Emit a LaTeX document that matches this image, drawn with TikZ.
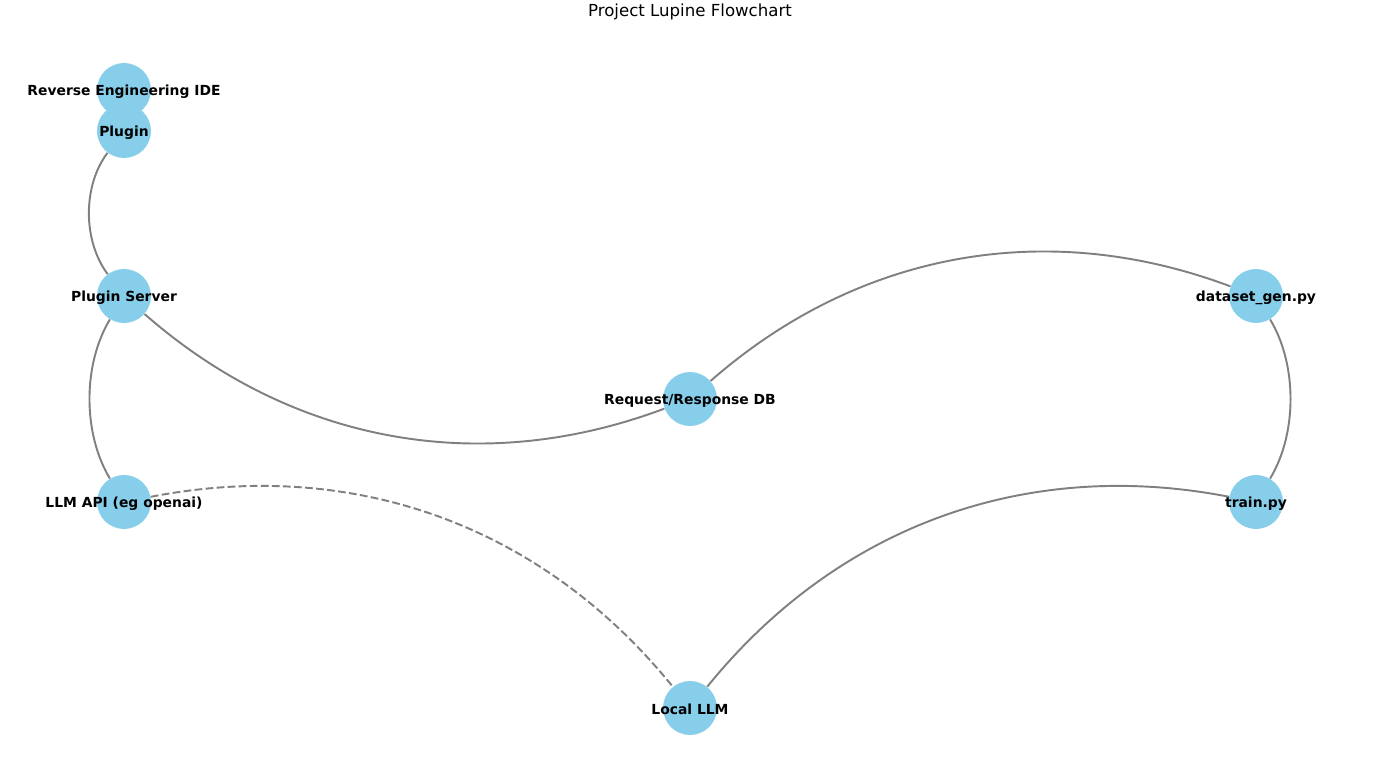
\documentclass[tikz,border=0pt]{standalone}
\usepackage{fontspec}
\setmainfont{DejaVu Sans}
\usetikzlibrary{positioning,calc}
\definecolor{skyblue}{RGB}{135,206,235}
\definecolor{edgegray}{RGB}{128,128,128}
\tikzset{
  vertex/.style={circle, fill=skyblue, minimum size=1.08cm, inner sep=0pt},
  tag/.style={font=\fontsize{7.9pt}{9pt}\bfseries, inner sep=0pt, yshift=-0.03cm},
  link/.style={draw=edgegray, line width=1.1pt},
  dashlink/.style={link, dash pattern=on 4.4pt off 1.9pt}
}
% quadratic arc from #1 to #2 with control point #3
\newcommand{\arcto}[4][link]{%
  \draw[#1] (#2) .. controls ($(#2.center)!0.6667!(#4)$) and ($(#3.center)!0.6667!(#4)$) .. (#3);}
\begin{document}
\begin{tikzpicture}[x=0.02cm, y=-0.02cm]
\useasboundingbox (0,0) rectangle (1376,766);
\node[font=\fontsize{9.45pt}{11pt}\selectfont] (title) at (690,12) {Project Lupine Flowchart};
% nodes
\node[vertex] (ide) at (124,90) {};
\node[vertex] (plugin) at (124,131) {};
\node[vertex] (server) at (124,296) {};
\node[vertex] (db) at (690,399) {};
\node[vertex] (gen) at (1256,296) {};
\node[vertex] (api) at (124,502) {};
\node[vertex] (train) at (1256,502) {};
\node[vertex] (local) at (690,708) {};
% edges
\arcto{plugin}{server}{62,213}
\arcto{server}{api}{62,399}
\arcto{server}{db}{376,517}
\arcto{db}{gen}{942,178}
\arcto{gen}{train}{1318,399}
\arcto{train}{local}{911,435}
\arcto[dashlink]{api}{local}{469,435}
% labels
\node[tag] (ideT) at (ide) {Reverse Engineering IDE};
\node[tag] (pluginT) at (plugin) {Plugin};
\node[tag] (serverT) at (server) {Plugin Server};
\node[tag] (dbT) at (db) {Request/Response DB};
\node[tag] (genT) at (gen) {dataset\_gen.py};
\node[tag] (apiT) at (api) {LLM API (eg openai)};
\node[tag] (trainT) at (train) {train.py};
\node[tag] (localT) at (local) {Local LLM};
\end{tikzpicture}
\end{document}
